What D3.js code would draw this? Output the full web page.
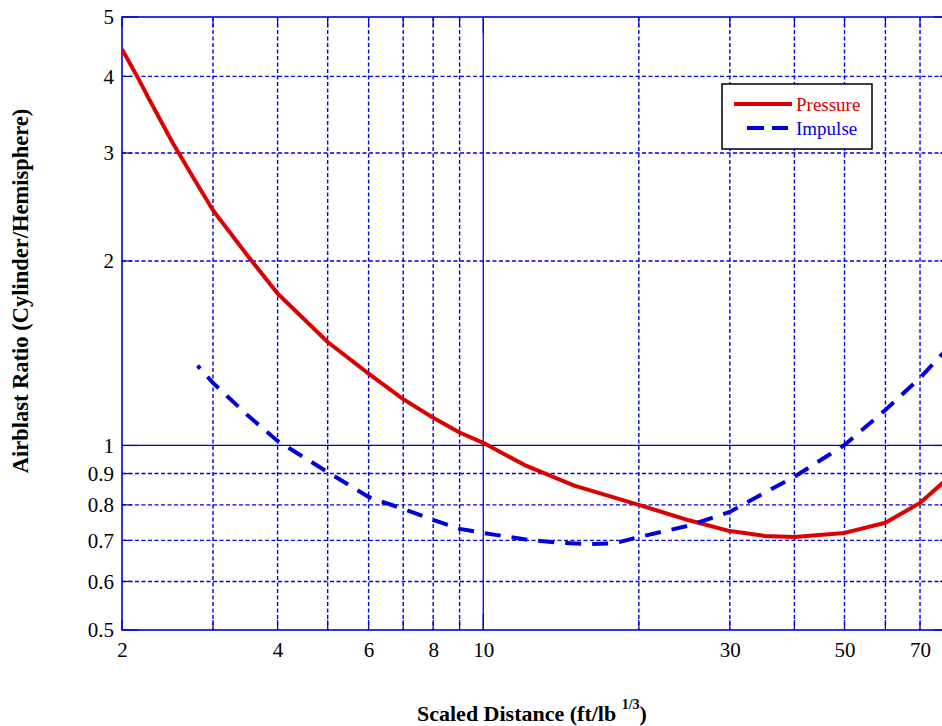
<!DOCTYPE html>
<html>
<head>
<meta charset="utf-8">
<script src="https://cdn.jsdelivr.net/npm/d3@7/dist/d3.min.js"></script>
<style>
  html, body { margin: 0; padding: 0; background: #ffffff; }
  svg { display: block; }
  text { font-family: "Liberation Serif", "Times New Roman", serif; }
</style>
</head>
<body>
<svg id="chart" width="942" height="726"></svg>
<script>
// ---- data ----
const pressureX = [2, 2.14, 2.25, 2.5, 2.75, 3, 3.5, 4, 5, 6, 7, 8, 9, 10, 12, 15, 20, 25, 30, 35, 40, 50, 60, 70, 80];
const pressureY = [4.43, 4.0, 3.69, 3.13, 2.73, 2.42, 2.04, 1.77, 1.475, 1.31, 1.19, 1.11, 1.05, 1.01, 0.93, 0.86, 0.80, 0.755, 0.725, 0.712, 0.709, 0.72, 0.748, 0.806, 0.89];
const impulseX = [2.8, 3, 3.5, 4, 5, 6, 7, 8, 9, 10, 12, 14, 16, 18, 20, 25, 30, 35, 40, 50, 60, 70, 80];
const impulseY = [1.35, 1.265, 1.12, 1.017, 0.905, 0.824, 0.788, 0.756, 0.731, 0.72, 0.703, 0.694, 0.69, 0.693, 0.709, 0.74, 0.779, 0.837, 0.889, 1.002, 1.143, 1.289, 1.454];
const xTickLabels = [2, 4, 6, 8, 10, 30, 50, 70];
const xMinorGrid = [3, 4, 5, 6, 7, 8, 9, 20, 30, 40, 50, 60, 70];
const xMajorGrid = [10];
const yTickLabels = [0.5, 0.6, 0.7, 0.8, 0.9, 1, 2, 3, 4, 5];
const yMinorGrid = [0.6, 0.7, 0.8, 0.9, 2, 3, 4];
const yMajorGrid = [1];
const seriesNames = ["Pressure", "Impulse"];

// ---- layout ----
const L = 122, R = 950, T = 17, B = 630;
const blue = "#0000dd", red = "#dd0000";
const svg = d3.select("#chart");

const x = d3.scaleLog().domain([2, 80]).range([L, R]);
const y = d3.scaleLog().domain([0.5, 5]).range([B, T]);

svg.append("defs").append("clipPath").attr("id", "plotclip")
  .append("rect").attr("x", L).attr("y", T).attr("width", R - L).attr("height", B - T);

const grid = svg.append("g");
grid.selectAll(".vx").data(xMinorGrid).join("line")
  .attr("x1", d => x(d)).attr("x2", d => x(d)).attr("y1", T).attr("y2", B)
  .attr("stroke", blue).attr("stroke-width", 1.4).attr("stroke-dasharray", "4,2.5");
grid.selectAll(".hy").data(yMinorGrid).join("line")
  .attr("x1", L).attr("x2", R).attr("y1", d => y(d)).attr("y2", d => y(d))
  .attr("stroke", blue).attr("stroke-width", 1.4).attr("stroke-dasharray", "4,2.5");
grid.selectAll(".vX").data(xMajorGrid).join("line")
  .attr("x1", d => x(d)).attr("x2", d => x(d)).attr("y1", T).attr("y2", B)
  .attr("stroke", blue).attr("stroke-width", 1.3);
grid.selectAll(".hY").data(yMajorGrid).join("line")
  .attr("x1", L).attr("x2", R).attr("y1", d => y(d)).attr("y2", d => y(d))
  .attr("stroke", blue).attr("stroke-width", 1.3);

svg.append("rect").attr("x", L).attr("y", T).attr("width", R - L).attr("height", B - T)
  .attr("fill", "none").attr("stroke", blue).attr("stroke-width", 1.6);

const ticks = svg.append("g").attr("stroke", blue).attr("stroke-width", 1.2);
yTickLabels.forEach(v => {
  const len = (v === 1 || v === 5 || v === 0.5) ? 16 : 10;
  ticks.append("line").attr("x1", L).attr("x2", L + len).attr("y1", y(v)).attr("y2", y(v));
  ticks.append("line").attr("x1", R).attr("x2", R - len).attr("y1", y(v)).attr("y2", y(v));
});
[2].concat(xMinorGrid, xMajorGrid).forEach(v => {
  const len = (v === 10) ? 16 : 10;
  ticks.append("line").attr("y1", B).attr("y2", B - len).attr("x1", x(v)).attr("x2", x(v));
  ticks.append("line").attr("y1", T).attr("y2", T + len).attr("x1", x(v)).attr("x2", x(v));
});

const xAxis = d3.axisBottom(x).tickValues(xTickLabels).tickFormat(d3.format("d")).tickSize(0).tickPadding(12);
const gx = svg.append("g").attr("transform", `translate(0,${B})`).call(xAxis);
gx.select(".domain").remove();
gx.attr("font-size", 21).attr("font-family", "'Liberation Serif', 'Times New Roman', serif");
gx.selectAll("text").attr("fill", "#000");

const yAxis = d3.axisLeft(y).tickValues(yTickLabels).tickFormat(d => String(d)).tickSize(0).tickPadding(8);
const gy = svg.append("g").attr("transform", `translate(${L},0)`).call(yAxis);
gy.select(".domain").remove();
gy.attr("font-size", 21).attr("font-family", "'Liberation Serif', 'Times New Roman', serif");
gy.selectAll("text").attr("fill", "#000");

const line = d3.line().x(d => x(d[0])).y(d => y(d[1]));
const plot = svg.append("g").attr("clip-path", "url(#plotclip)");
const pData = pressureX.map((v, i) => [v, pressureY[i]]);
const iData = impulseX.map((v, i) => [v, impulseY[i]]);
plot.append("path").datum(pData).attr("d", line)
  .attr("fill", "none").attr("stroke", red).attr("stroke-width", 4).attr("stroke-linejoin", "round");
plot.append("path").datum(iData).attr("d", line)
  .attr("fill", "none").attr("stroke", blue).attr("stroke-width", 4)
  .attr("stroke-dasharray", "16,11").attr("stroke-dashoffset", 12);

const lg = svg.append("g");
lg.append("rect").attr("x", 722).attr("y", 84).attr("width", 150).attr("height", 65)
  .attr("fill", "#fff").attr("stroke", "#000").attr("stroke-width", 1.5);
lg.append("line").attr("x1", 734).attr("x2", 792).attr("y1", 104).attr("y2", 104)
  .attr("stroke", red).attr("stroke-width", 4);
lg.append("text").attr("x", 796).attr("y", 111).attr("font-size", 19).attr("fill", red).text(seriesNames[0]);
lg.append("line").attr("x1", 747).attr("x2", 764).attr("y1", 128).attr("y2", 128)
  .attr("stroke", blue).attr("stroke-width", 4);
lg.append("line").attr("x1", 772).attr("x2", 788).attr("y1", 128).attr("y2", 128)
  .attr("stroke", blue).attr("stroke-width", 4);
lg.append("text").attr("x", 796).attr("y", 135).attr("font-size", 19).attr("fill", blue).text(seriesNames[1]);

svg.append("text").attr("transform", "translate(28,291) rotate(-90)")
  .attr("text-anchor", "middle").attr("font-size", 22.5).attr("font-weight", "bold").attr("fill", "#000")
  .text("Airblast Ratio (Cylinder/Hemisphere)");
const xt = svg.append("text").attr("x", 417).attr("y", 721)
  .attr("font-size", 22).attr("font-weight", "bold").attr("fill", "#000");
xt.append("tspan").text("Scaled Distance (ft/lb ");
xt.append("tspan").attr("font-size", 14).attr("dy", -12).text("1/3");
xt.append("tspan").attr("dy", 12).text(")");
</script>
</body>
</html>
